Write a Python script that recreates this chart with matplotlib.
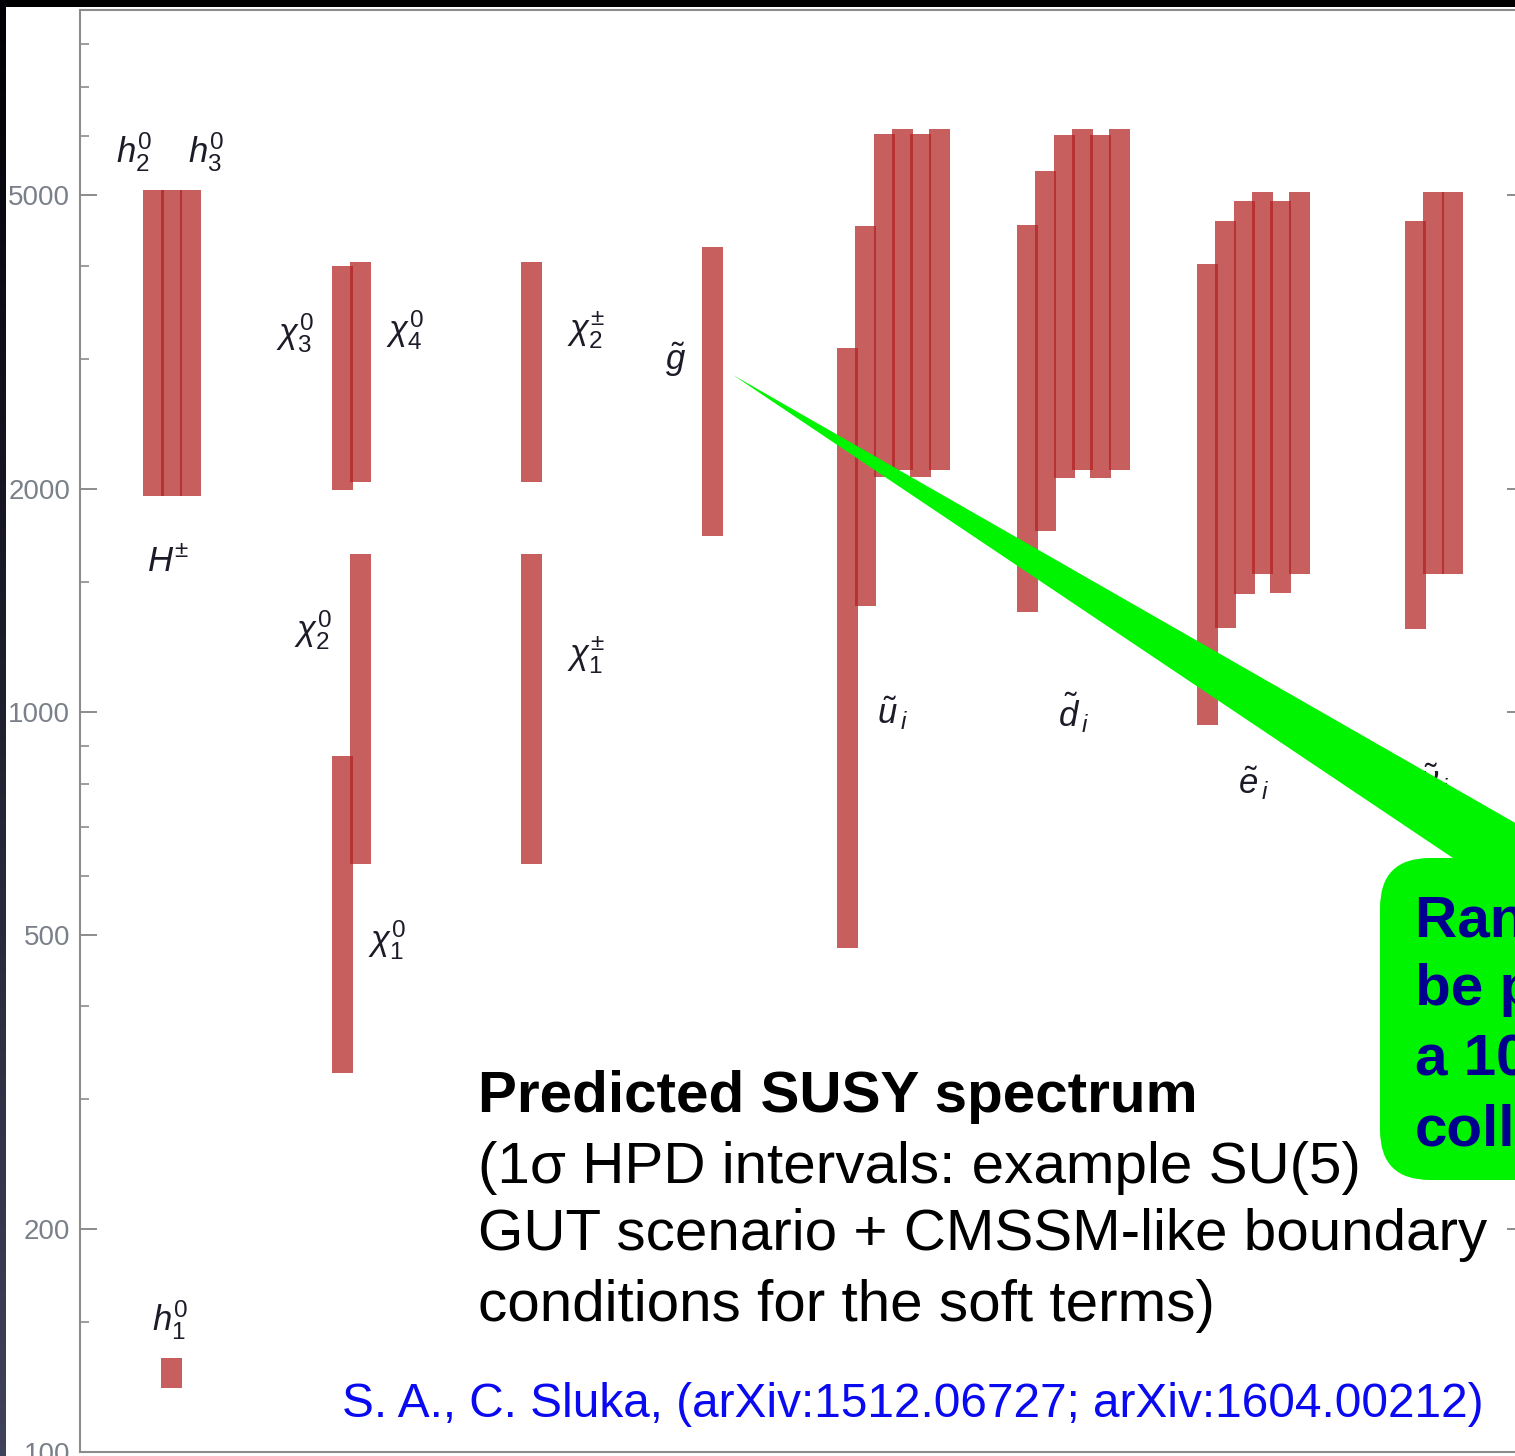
import numpy as np
import matplotlib
matplotlib.use("Agg")
import matplotlib.pyplot as plt
from matplotlib.patches import Polygon, FancyBboxPatch, Rectangle
from matplotlib.ticker import NullFormatter

plt.rcParams['font.family'] = ['Liberation Sans', 'DejaVu Sans']
plt.rcParams['mathtext.fontset'] = 'custom'
plt.rcParams['mathtext.it'] = 'Liberation Sans:italic'
plt.rcParams['mathtext.rm'] = 'Liberation Sans'
plt.rcParams['mathtext.bf'] = 'Liberation Sans:bold'

# 1 sigma HPD mass intervals (GeV), one entry per bar
bar_group = [0, 0, 0, 0,
             1, 1, 1, 1,
             2, 2,
             3,
             4, 4, 4, 4, 4, 4,
             5, 5, 5, 5, 5, 5,
             6, 6, 6, 6, 6, 6,
             7, 7, 7]
bar_slot = [1, 0, 1, 2,
            0, 1, 0, 1,
            0, 0,
            0,
            0, 1, 2, 3, 4, 5,
            0, 1, 2, 3, 4, 5,
            0, 1, 2, 3, 4, 5,
            0, 1, 2]
mass_low = [122, 1960, 1960, 1960,
            325, 623, 1995, 2047,
            623, 2047,
            1729,
            480, 1391, 2078, 2123, 2078, 2123,
            1365, 1756, 2073, 2123, 2073, 2123,
            960, 1299, 1443, 1537, 1446, 1537,
            1295, 1537, 1537]
mass_high = [134, 5070, 5070, 5070,
             872, 1635, 4006, 4055,
             1635, 4055,
             4250,
             3104, 4537, 6040, 6135, 6040, 6135,
             4550, 5383, 6020, 6135, 6020, 6135,
             4031, 4608, 4903, 5043, 4903, 5043,
             4608, 5043, 5043]

particle_labels = [r'$h_2^0$', r'$h_3^0$', r'$H^{\pm}$', r'$h_1^0$',
                   r'$\chi_3^0$', r'$\chi_4^0$', r'$\chi_2^0$', r'$\chi_1^0$',
                   r'$\chi_2^{\pm}$', r'$\chi_1^{\pm}$', r'$\tilde{g}$',
                   r'$\tilde{u}_{\,i}$', r'$\tilde{d}_{\,i}$',
                   r'$\tilde{e}_{\,i}$', r'$\tilde{\nu}_{\,i}$']
label_x = [54, 126, 88, 90,
           215, 325, 233, 307,
           506, 506, 596,
           812, 993, 1173, 1355]
label_mass = [5711, 5711, 1595, 151,
              3252, 3282, 1291, 492,
              3282, 1194, 2990,
              997, 997, 802, 809]

y_major = [100, 200, 500, 1000, 2000, 5000]
y_minor = [150, 300, 400, 600, 700, 800, 900, 1500, 3000, 4000, 6000, 7000, 8000]

group_start = [63, 252, 441, 622, 757, 937, 1117, 1325]
slot_step = 18.3
bar_width = 21

W, H = 1515, 1456
fig = plt.figure(figsize=(W / 100, H / 100), dpi=100, facecolor='white')

ax = fig.add_axes([80 / W, 1 - 1452 / H, 1444 / W, 1442 / H])
ax.set_yscale('log')
ax.set_ylim(100, 8885)
ax.set_xlim(0, 1444)

xs = [group_start[g] + slot_step * s for g, s in zip(bar_group, bar_slot)]
heights = np.array(mass_high) - np.array(mass_low)
ax.bar(xs, heights, bottom=mass_low, width=bar_width, align='edge',
       color='#b22222', alpha=0.72, linewidth=0, zorder=2)

for lab, lx, ly in zip(particle_labels, label_x, label_mass):
    ax.text(lx, ly, lab, fontsize=25, color='#1c1c28', ha='center', va='center', zorder=1)

axis_grey = '#8c8c8c'
for sp in ax.spines.values():
    sp.set_color(axis_grey)
    sp.set_linewidth(1.5)
ax.set_xticks([])
ax.set_yticks(y_major)
ax.set_yticklabels([str(v) for v in y_major])
ax.set_yticks(y_minor, minor=True)
ax.yaxis.set_minor_formatter(NullFormatter())
ax.yaxis.set_ticks_position('both')
ax.tick_params(axis='y', which='major', direction='in', length=12, width=1.4,
               color=axis_grey, labelsize=20, labelcolor='#7a808a', pad=7)
ax.tick_params(axis='y', which='minor', direction='in', length=6.5, width=1.2,
               color=axis_grey)

# overlay in pixel units for the slide decorations and captions
ov = fig.add_axes([0, 0, 1, 1], facecolor='none')
ov.set_xlim(0, W)
ov.set_ylim(H, 0)
ov.axis('off')
ov.set_zorder(5)

ov.add_patch(Rectangle((0, 0), W, 7, color='black', lw=0))
grad = np.linspace(0, 1, 256)[:, None]
band = np.dstack([0.0 + 0.25 * grad, 0.0 + 0.26 * grad, 0.02 + 0.34 * grad])
ov.imshow(band, extent=[0, 6, H, 0], aspect='auto', zorder=1)

green = '#00f400'
ov.add_patch(Polygon([(733, 375), (1545, 840), (1545, 900), (1453, 900), (1453, 858)],
                     closed=True, color=green, lw=0, zorder=2))
ov.add_patch(FancyBboxPatch((1380, 858), 400, 322,
                            boxstyle='round,pad=0,rounding_size=50',
                            color=green, lw=0, zorder=2))
callout = ['Range could', 'be probed at', 'a 100 TeV', 'collider']
for line, base in zip(callout, [937, 1005, 1075, 1145]):
    ov.text(1415, base, line, fontsize=42, fontweight='bold', color='#00008e',
            va='baseline', ha='left', zorder=3)

caption = ['(1σ HPD intervals: example SU(5)',
           'GUT scenario + CMSSM-like boundary',
           'conditions for the soft terms)']
ov.text(478, 1112, 'Predicted SUSY spectrum', fontsize=42, fontweight='bold',
        color='black', va='baseline', zorder=3)
for line, base in zip(caption, [1183, 1250, 1321]):
    ov.text(478, base, line, fontsize=42, color='black', va='baseline', zorder=3)

ov.text(342, 1417, 'S. A., C. Sluka, (arXiv:1512.06727; arXiv:1604.00212)',
        fontsize=34.4, color='#0a0af0', va='baseline', zorder=3)

fig.savefig('out.png', dpi=100, facecolor='white')
